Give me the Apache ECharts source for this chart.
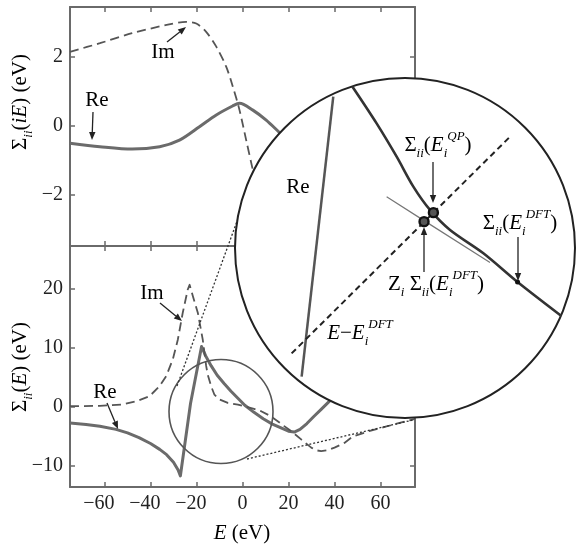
<!DOCTYPE html>
<html>
<head>
<meta charset="utf-8">
<script src="https://cdn.jsdelivr.net/npm/echarts@6/dist/echarts.min.js"></script>
<style>html,body{margin:0;padding:0;background:#fff;}#c{width:576px;height:549px;}</style>
</head>
<body>
<div id="c"></div>
<script>
// ---- tick values ----
const xTicks = [-60, -40, -20, 0, 20, 40, 60];
const topYTicks = [-2, 0, 2];
const botYTicks = [-10, 0, 10, 20];

// ---- top panel: Sigma_ii(iE) ----
const topReE   = [-75, -62, -48, -36, -27.4, -18.7, -11.4, -4.3, -1.3, 4.5, 10.3, 16.1, 22];
const topReVal = [-0.50, -0.60, -0.67, -0.60, -0.41, -0.02, 0.32, 0.58, 0.66, 0.46, 0.17, -0.19, -0.55];
const topImE   = [-75, -62, -48, -33, -24.5, -20.1, -15.8, -11.4, -7.1, -4.2, -1.3, 1.6, 4.5, 6.7, 8.5];
const topImVal = [2.15, 2.40, 2.69, 2.93, 3.02, 2.97, 2.73, 2.30, 1.72, 1.14, 0.46, -0.41, -1.28, -1.95, -2.5];

// ---- bottom panel: Sigma_ii(E) ----
const botReE   = [-75, -68, -62, -55, -50, -45, -40, -36, -33, -30, -28, -27, -22.6, -17.8, -16, -13.6, -11, -8, -5, -2, 1, 5, 9, 13, 17, 20, 22.5, 25, 28, 31, 34.2, 38.6, 44];
const botReVal = [-2.8, -3.05, -3.35, -3.9, -4.5, -5.3, -6.3, -7.3, -8.2, -9.5, -10.8, -11.8, 0.5, 10.2, 8.6, 6.9, 5.3, 3.9, 2.6, 1.4, 0.2, -1.0, -2.1, -3.0, -3.7, -4.2, -4.35, -3.9, -2.9, -1.7, -0.5, 1.2, 4];
const botImE   = [-75, -62, -52, -46, -40.4, -36.1, -33.2, -30.3, -28.1, -26, -23.8, -23, -21.6, -19.4, -17.3, -15.8, -15.1, -13.6, -12.2, -10, -6.4, -2, 1, 5, 8.1, 12, 15.3, 18, 21.2, 25.5, 29.9, 32, 34.2, 37, 40, 44.3, 48, 55, 62.6, 75];
const botImVal = [0.05, 0.1, 0.35, 0.9, 1.75, 3.45, 5.15, 8.0, 11.4, 15.9, 19.9, 20.7, 18.8, 15.9, 11.4, 6.9, 5.4, 3.4, 2.0, 1.2, 0.6, 0.3, 0.0, -0.4, -0.8, -1.6, -2.5, -3.3, -4.2, -5.6, -7.0, -7.45, -7.6, -7.45, -7.0, -6.2, -5.1, -4.2, -3.4, -2.1];

// ---- magnified inset (unit-circle coordinates) ----
const insetSteepU = [-0.608, -0.422];
const insetSteepV = [-0.757, 0.890];
const insetCurveU = [-0.31, -0.167, -0.049, 0.049, 0.147, 0.265, 0.461, 0.662, 0.92];
const insetCurveV = [0.95, 0.733, 0.537, 0.361, 0.224, 0.106, -0.031, -0.200, -0.40];
const insetLineU  = [-0.667, 0.618];
const insetLineV  = [-0.620, 0.655];
const insetTanU   = [-0.108, 0.112, 0.50];
const insetTanV   = [0.302, 0.161, -0.085];
const insetMarkU  = [0.112, 0.167];
const insetMarkV  = [0.155, 0.208];
const insetDotU   = [0.662];
const insetDotV   = [-0.200];

const zip = (a, b) => a.map((v, i) => [v, b[i]]);

const SERIF = "'Liberation Serif', 'DejaVu Serif', serif";
const FRAME = '#6a6a6a';
const tickRich = {
  v: { fontFamily: SERIF, fontSize: 20, color: '#222' },
  h: { fontFamily: SERIF, fontSize: 20, color: 'rgba(0,0,0,0)' }
};
// negative labels: digits centred on the tick, minus hanging to the left
const xFmt = v => v < 0 ? '{v|\u2212' + Math.abs(v) + '}{h|\u2212}' : '{v|' + v + '}';
const yFmt = v => v < 0 ? '{v|\u2212' + Math.abs(v) + '}' : '{v|' + v + '}';

function xAxisDef(gi, pos, labels) {
  return {
    type: 'value', gridIndex: gi, position: pos, min: -75, max: 75,
    axisLine: { show: true, onZero: false, lineStyle: { color: FRAME, width: 2 } },
    axisTick: { show: true, inside: true, length: 5, customValues: xTicks, lineStyle: { color: FRAME, width: 1.5 } },
    axisLabel: { show: labels, customValues: xTicks, margin: 7, formatter: xFmt, rich: tickRich },
    splitLine: { show: false }
  };
}
function yAxisDef(gi, pos, labels, mn, mx, ticks) {
  return {
    type: 'value', gridIndex: gi, position: pos, min: mn, max: mx,
    axisLine: { show: true, onZero: false, lineStyle: { color: FRAME, width: 2 } },
    axisTick: { show: true, inside: true, length: 5, customValues: ticks, lineStyle: { color: FRAME, width: 1.5 } },
    axisLabel: { show: labels, customValues: ticks, margin: 7, formatter: yFmt, rich: tickRich },
    splitLine: { show: false }
  };
}

const rich = {
  m:  { fontFamily: SERIF, fontSize: 21, lineHeight: 30, color: '#222' },
  it: { fontFamily: SERIF, fontSize: 21, lineHeight: 30, color: '#222', fontStyle: 'italic' },
  sb: { fontFamily: SERIF, fontSize: 13, lineHeight: 13, color: '#222', fontStyle: 'italic', verticalAlign: 'bottom' },
  sp: { fontFamily: SERIF, fontSize: 13, lineHeight: 13, color: '#222', fontStyle: 'italic', verticalAlign: 'top' }
};

function txt(x, y, text, rot) {
  return { type: 'text', x: x, y: y, rotation: rot || 0, z: 30,
    style: { text: text, rich: rich, align: 'center', verticalAlign: 'middle' } };
}
function arrow(x1, y1, x2, y2) {
  const dx = x2 - x1, dy = y2 - y1, L = Math.hypot(dx, dy);
  const ux = dx / L, uy = dy / L, h = 8, w = 3.2;
  const bx = x2 - ux * h, by = y2 - uy * h;
  return [
    { type: 'line', z: 30, shape: { x1: x1, y1: y1, x2: bx, y2: by }, style: { stroke: '#222', lineWidth: 1.3 } },
    { type: 'polygon', z: 30, shape: { points: [[x2, y2], [bx - uy * w, by + ux * w], [bx + uy * w, by - ux * w]] },
      style: { fill: '#222' } }
  ];
}

const graphics = [
  // small circle & dotted connectors
  { type: 'circle', z: 5, shape: { cx: 221, cy: 411.5, r: 52 }, style: { fill: 'none', stroke: '#555', lineWidth: 1.6 } },
  { type: 'line', z: 5, shape: { x1: 177, y1: 386, x2: 240, y2: 213 }, style: { stroke: '#333', lineWidth: 1.3, lineDash: [2, 2] } },
  { type: 'line', z: 5, shape: { x1: 247, y1: 459, x2: 413, y2: 420 }, style: { stroke: '#333', lineWidth: 1.3, lineDash: [2, 2] } },
  // big magnifier circle
  { type: 'circle', z: 10, shape: { cx: 405, cy: 248, r: 170 }, style: { fill: '#fff', stroke: '#222', lineWidth: 2 } },
  // main labels
  txt(163, 52, '{m|Im}'),
  txt(97, 100, '{m|Re}'),
  txt(152, 293, '{m|Im}'),
  txt(105, 392, '{m|Re}'),
  ...arrow(167, 42, 186, 27),
  ...arrow(93, 112, 92, 140),
  ...arrow(160, 303, 182, 321),
  ...arrow(107, 403, 118, 429),
  // axis titles
  txt(20, 102, '{m|\u03A3}{sb|ii}{m|(}{it|iE}{m|) (eV)}', Math.PI / 2),
  txt(20, 367, '{m|\u03A3}{sb|ii}{m|(}{it|E}{m|) (eV)}', Math.PI / 2),
  txt(242, 533, '{it|E}{m| (eV)}'),
  // inset labels
  txt(298, 187, '{m|Re}'),
  txt(438, 145, '{m|\u03A3}{sb|ii}{m|(}{it|E}{sb|i}{sp|QP}{m|)}'),
  txt(520, 223, '{m|\u03A3}{sb|ii}{m|(}{it|E}{sb|i}{sp|DFT}{m|)}'),
  txt(436, 284, '{m|Z}{sb|i}{m| \u03A3}{sb|ii}{m|(}{it|E}{sb|i}{sp|DFT}{m|)}'),
  txt(360, 333, '{it|E}{m|\u2212}{it|E}{sb|i}{sp|DFT}'),
  ...arrow(433, 162, 433, 203),
  ...arrow(518, 237, 518, 281),
  ...arrow(424, 272, 424, 227)
];

const chart = echarts.init(document.getElementById('c'), null, { renderer: 'canvas' });
chart.setOption({
  animation: false,
  backgroundColor: '#fff',
  grid: [
    { left: 70, top: 7, width: 345, height: 239 },
    { left: 70, top: 246, width: 345, height: 241 },
    { left: 235, top: 78, width: 340, height: 340 }
  ],
  xAxis: [
    xAxisDef(0, 'bottom', false),
    xAxisDef(0, 'top', false),
    xAxisDef(1, 'bottom', true),
    xAxisDef(1, 'top', false),
    { type: 'value', gridIndex: 2, min: -1, max: 1, show: false }
  ],
  yAxis: [
    yAxisDef(0, 'left', true, -3.48, 3.45, topYTicks),
    yAxisDef(0, 'right', false, -3.48, 3.45, topYTicks),
    yAxisDef(1, 'left', true, -13.7, 27.3, botYTicks),
    yAxisDef(1, 'right', false, -13.7, 27.3, botYTicks),
    { type: 'value', gridIndex: 2, min: -1, max: 1, show: false }
  ],
  series: [
    { type: 'line', xAxisIndex: 0, yAxisIndex: 0, data: zip(topReE, topReVal), smooth: 0.3, showSymbol: false,
      lineStyle: { color: '#6b6b6b', width: 3 } },
    { type: 'line', xAxisIndex: 0, yAxisIndex: 0, data: zip(topImE, topImVal), smooth: 0.3, showSymbol: false,
      lineStyle: { color: '#555', width: 1.8, type: [9, 5] } },
    { type: 'line', xAxisIndex: 2, yAxisIndex: 2, data: zip(botReE, botReVal), smooth: false, showSymbol: false,
      lineStyle: { color: '#6b6b6b', width: 3, join: 'round' } },
    { type: 'line', xAxisIndex: 2, yAxisIndex: 2, data: zip(botImE, botImVal), smooth: false, showSymbol: false,
      lineStyle: { color: '#555', width: 1.8, type: [9, 5], join: 'round' } },
    // inset
    { type: 'line', xAxisIndex: 4, yAxisIndex: 4, z: 20, data: zip(insetSteepU, insetSteepV), showSymbol: false,
      lineStyle: { color: '#555', width: 2.5 } },
    { type: 'line', xAxisIndex: 4, yAxisIndex: 4, z: 20, data: zip(insetCurveU, insetCurveV), smooth: 0.3, showSymbol: false,
      lineStyle: { color: '#333', width: 2.6 } },
    { type: 'line', xAxisIndex: 4, yAxisIndex: 4, z: 20, data: zip(insetLineU, insetLineV), showSymbol: false,
      lineStyle: { color: '#222', width: 2, type: [6, 4] } },
    { type: 'line', xAxisIndex: 4, yAxisIndex: 4, z: 20, data: zip(insetTanU, insetTanV), showSymbol: false,
      lineStyle: { color: '#777', width: 1.2 } },
    { type: 'scatter', xAxisIndex: 4, yAxisIndex: 4, z: 22, data: zip(insetMarkU, insetMarkV), symbolSize: 9,
      itemStyle: { color: '#555', borderColor: '#111', borderWidth: 2.4, opacity: 1 } },
    { type: 'scatter', xAxisIndex: 4, yAxisIndex: 4, z: 22, data: zip(insetDotU, insetDotV), symbolSize: 5,
      itemStyle: { color: '#111', opacity: 1 } }
  ],
  graphic: graphics
});
</script>
</body>
</html>
